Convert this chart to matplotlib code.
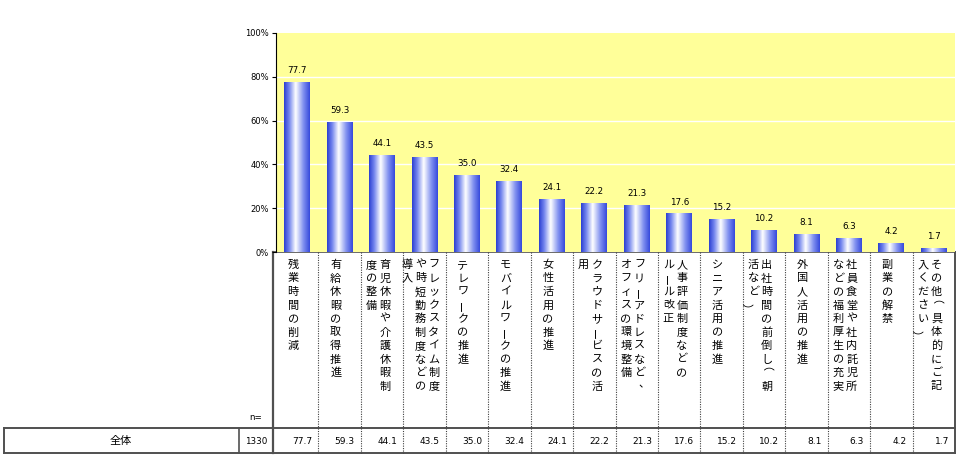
import matplotlib
matplotlib.use("Agg")
import matplotlib.pyplot as plt
import matplotlib.transforms as mtransforms
from matplotlib.colors import LinearSegmentedColormap
import numpy as np

# ---- data ----
categories = [
    "残業時間の削減",
    "有給休暇の取得推進",
    "育児休暇や介護休暇制度の整備",
    "フレックスタイム制度や時短勤務制度などの導入",
    "テレワークの推進",
    "モバイルワークの推進",
    "女性活用の推進",
    "クラウドサービスの活用",
    "フリーアドレスなど、オフィスの環境整備",
    "人事評価制度などのルール改正",
    "シニア活用の推進",
    "出社時間の前倒し（朝活など）",
    "外国人活用の推進",
    "社員食堂や社内託児所などの福利厚生の充実",
    "副業の解禁",
    "その他（具体的にご記入ください）",
]
values = [77.7, 59.3, 44.1, 43.5, 35.0, 32.4, 24.1, 22.2, 21.3, 17.6,
          15.2, 10.2, 8.1, 6.3, 4.2, 1.7]
row_label = "全体"
n_total = 1330
yticks = [0, 20, 40, 60, 80, 100]
ytick_labels = ["0%", "20%", "40%", "60%", "80%", "100%"]

JP = ["Noto Sans CJK JP", "DejaVu Sans"]
plt.rcParams["font.family"] = JP

W, H = 963, 468
fig = plt.figure(figsize=(W / 100, H / 100), dpi=100)
fig.patch.set_facecolor("white")

# overlay axes in pixel coordinates (for the table)
tab = fig.add_axes([0, 0, 1, 1], zorder=0)
tab.set_xlim(0, W)
tab.set_ylim(H, 0)
tab.axis("off")
tab.patch.set_alpha(0)

# main chart axes
L, R, T, B = 276, 955, 33, 252
ax = fig.add_axes([L / W, (H - B) / H, (R - L) / W, (B - T) / H], zorder=1)
ax.set_facecolor("#FFFF99")

x = np.arange(len(values))
bars = ax.bar(x, values, width=0.61, facecolor="none", edgecolor="none", zorder=2)

grad_cmap = LinearSegmentedColormap.from_list(
    "cyl", [(0.0, "#2A3ED2"), (0.2, "#7486EE"), (0.45, "#FFFFFF"),
            (0.75, "#8090F0"), (1.0, "#3548DC")])
grad = np.linspace(0, 1, 256).reshape(1, -1)
for rect in bars:
    x0 = rect.get_x()
    x1 = x0 + rect.get_width()
    h = rect.get_height()
    im = ax.imshow(grad, cmap=grad_cmap, extent=[x0, x1, 0, h],
                   aspect="auto", zorder=2, interpolation="bilinear")
    im.set_clip_path(rect)

for xi, v in zip(x, values):
    ax.annotate(f"{v:.1f}", (xi, v), xytext=(0, 5), textcoords="offset points",
                ha="center", va="bottom", fontsize=6.3, family="DejaVu Sans")

ax.set_xlim(-0.5, len(values) - 0.5)
ax.set_ylim(0, 100)
ax.set_yticks(yticks)
ax.set_yticklabels(ytick_labels, fontsize=6, family="DejaVu Sans")
ax.tick_params(axis="y", length=3, width=0.8, pad=2)
ax.set_xticks([])
for yv in yticks[1:-1]:
    ax.axhline(yv, color="white", lw=1.0, zorder=1)
for s in ["top", "right", "bottom"]:
    ax.spines[s].set_visible(False)
ax.spines["left"].set_color("black")
ax.spines["left"].set_linewidth(0.8)

# ---- table ----
blend = mtransforms.blended_transform_factory(ax.transData, tab.transData)
edge = "#505050"
TOP, ROW_T, ROW_B = 252, 428, 453
tab.plot([273, R], [TOP, TOP], color=edge, lw=1.2)
tab.plot([273, 273], [TOP, ROW_B], color=edge, lw=1.6)
tab.plot([R, R], [TOP, ROW_B], color=edge, lw=1.4)
tab.plot([4, R], [ROW_T, ROW_T], color=edge, lw=1.4)
tab.plot([4, R], [ROW_B, ROW_B], color=edge, lw=1.4)
tab.plot([4, 4], [ROW_T, ROW_B], color=edge, lw=1.4)
tab.plot([239, 239], [ROW_T, ROW_B], color=edge, lw=1.2)
for b in x[:-1] + 0.5:
    tab.plot([b, b], [TOP, ROW_B], color="#404040", lw=0.8, ls=(0, (1, 1.2)),
             transform=blend)

tab.text(121, 441, row_label, ha="center", va="center", fontsize=8)
tab.text(256, 441, str(n_total), ha="center", va="center", fontsize=6.3,
         family="DejaVu Sans")
tab.text(256, 417, "n=", ha="center", va="center", fontsize=6.3,
         family="DejaVu Sans")

for xi, v in zip(x, values):
    tr = mtransforms.offset_copy(blend, fig=fig, x=-6, y=0, units="dots")
    tab.text(xi + 0.5, 441, f"{v:.1f}", ha="right", va="center", fontsize=6.5,
             family="DejaVu Sans", transform=tr)

# vertical (tategaki) category labels
NO_START = set("ー、。）")


def wrap_cols(s, n=10):
    cols = []
    while s:
        c = s[:n]
        rest = s[n:]
        if rest and rest[0] in NO_START:
            c, rest = s[:n - 1], s[n - 1:]
        cols.append(c)
        s = rest
    return cols


COL_SP = 13.5
ROW_SP = 13.5
Y0 = 265
for xi, name in zip(x, categories):
    cols = wrap_cols(name)
    n = len(cols)
    for j, col in enumerate(cols):
        dx = -4 + ((n - 1) / 2 - j) * COL_SP
        for k, ch in enumerate(col):
            rot = 0
            ddx, ddy = 0, 0
            if ch == "ー":
                rot = 90
            elif ch == "（":
                rot = -90
                ddx, ddy = -7, 1
            elif ch == "）":
                rot = -90
                ddx, ddy = -7, -3
            elif ch == "、":
                ddx, ddy = 5, 2
            tr = mtransforms.offset_copy(blend, fig=fig, x=dx + ddx, y=ddy,
                                         units="dots")
            tab.text(xi, Y0 + k * ROW_SP, ch, ha="center", va="center",
                     fontsize=8, rotation=rot, transform=tr)

fig.savefig("out.png", dpi=100)
